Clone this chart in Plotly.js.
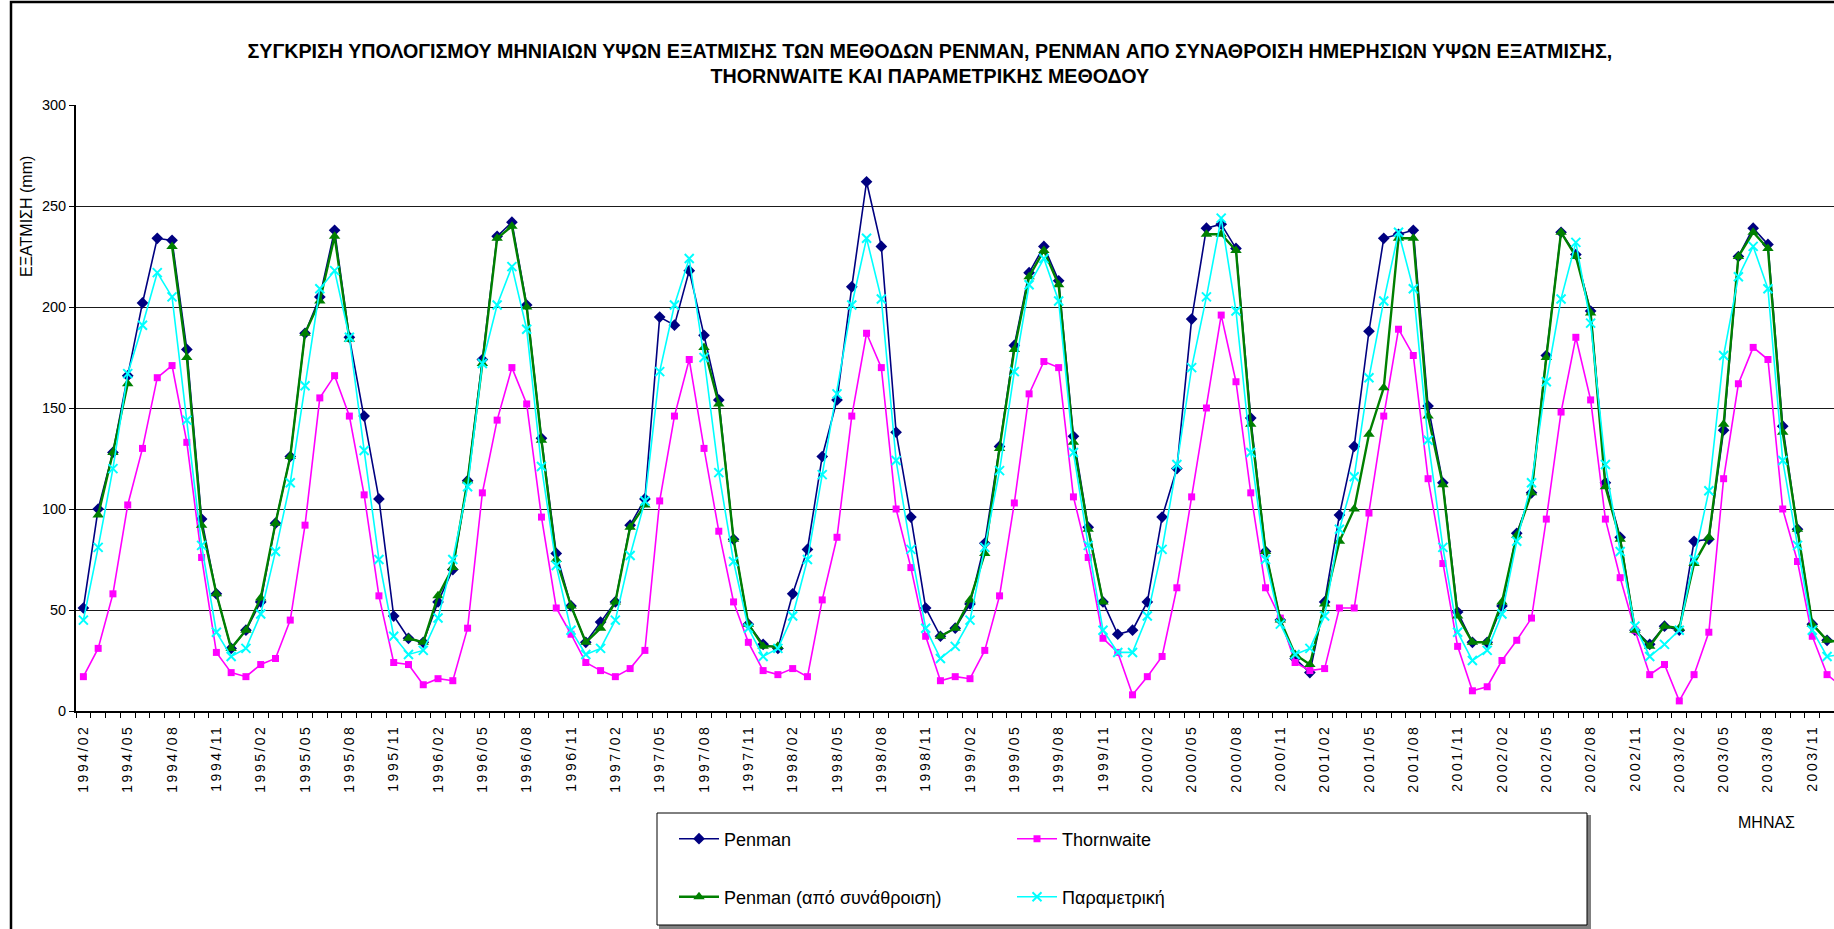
<!DOCTYPE html>
<html>
<head>
<meta charset="utf-8">
<script src="https://cdn.plot.ly/plotly-3.0.1.min.js"></script>
<style>
  html, body { margin: 0; padding: 0; background: #fff; }
  #chart { width: 1834px; height: 929px; }
  .xtick text { letter-spacing: 2.5px; }
</style>
</head>
<body>
<div id="chart"></div>
<script>
// Monthly categories, 1994/02 .. 2004/01
const months = [
  '1994/02','1994/03','1994/04','1994/05','1994/06','1994/07','1994/08','1994/09','1994/10','1994/11','1994/12','1995/01',
  '1995/02','1995/03','1995/04','1995/05','1995/06','1995/07','1995/08','1995/09','1995/10','1995/11','1995/12','1996/01',
  '1996/02','1996/03','1996/04','1996/05','1996/06','1996/07','1996/08','1996/09','1996/10','1996/11','1996/12','1997/01',
  '1997/02','1997/03','1997/04','1997/05','1997/06','1997/07','1997/08','1997/09','1997/10','1997/11','1997/12','1998/01',
  '1998/02','1998/03','1998/04','1998/05','1998/06','1998/07','1998/08','1998/09','1998/10','1998/11','1998/12','1999/01',
  '1999/02','1999/03','1999/04','1999/05','1999/06','1999/07','1999/08','1999/09','1999/10','1999/11','1999/12','2000/01',
  '2000/02','2000/03','2000/04','2000/05','2000/06','2000/07','2000/08','2000/09','2000/10','2000/11','2000/12','2001/01',
  '2001/02','2001/03','2001/04','2001/05','2001/06','2001/07','2001/08','2001/09','2001/10','2001/11','2001/12','2002/01',
  '2002/02','2002/03','2002/04','2002/05','2002/06','2002/07','2002/08','2002/09','2002/10','2002/11','2002/12','2003/01',
  '2003/02','2003/03','2003/04','2003/05','2003/06','2003/07','2003/08','2003/09','2003/10','2003/11','2003/12','2004/01'
];

// Evaporation depth (mm) per month
const penman = [
  51,100,128,166,202,234,233,179,95,58,31,40,
  54,93,126,187,205,238,185,146,105,47,36,34,
  54,70,114,174,235,242,201,135,78,52,34,44,
  54,92,105,195,191,218,186,154,85,43,33,31,
  58,80,126,154,210,262,230,138,96,51,37,41,
  53,83,131,181,217,230,213,136,91,54,38,40,
  54,96,120,194,239,241,229,145,79,45,26,19,
  54,97,131,188,234,236,238,151,113,49,34,34,
  52,88,108,176,237,226,198,113,86,40,33,42,
  40,84,85,139,225,239,231,141,90,43,35,34
];

const thornwaite = [
  17,31,58,102,130,165,171,133,76,29,19,17,
  23,26,45,92,155,166,146,107,57,24,23,13,
  16,15,41,108,144,170,152,96,51,38,24,20,
  17,21,30,104,146,174,130,89,54,34,20,18,
  21,17,55,86,146,187,170,100,71,37,15,17,
  16,30,57,103,157,173,170,106,76,36,29,8,
  17,27,61,106,150,196,163,108,61,46,24,20,
  21,51,51,98,146,189,176,115,73,32,10,12,
  25,35,46,95,148,185,154,95,66,40,18,23,
  5,18,39,115,162,180,174,100,74,37,18,12
];

// Penman from summed daily depths (months without a value are left empty)
const penmanSum = [
  null,97,128,162,null,null,230,175,92,58,31,40,
  56,93,126,187,203,235,184,null,null,null,36,34,
  57,71,114,172,234,240,200,134,75,52,34,41,
  54,91,102,null,null,null,180,152,85,43,32,32,
  null,null,null,null,null,null,null,null,null,null,37,41,
  55,78,130,179,215,228,211,133,90,54,null,null,
  null,null,null,null,236,236,228,142,79,45,28,23,
  53,84,100,137,160,234,234,146,112,47,34,34,
  54,87,108,175,237,225,197,111,85,40,32,42,
  41,73,86,142,225,237,229,138,90,43,35,34
];

const parametric = [
  45,81,120,167,191,217,205,144,82,39,27,31,
  48,79,113,161,209,218,185,129,75,37,28,30,
  46,75,111,172,201,220,189,121,72,40,28,31,
  45,77,104,168,201,224,175,118,74,41,27,31,
  47,75,117,157,201,234,204,124,80,41,26,32,
  45,81,119,168,211,224,203,128,82,40,29,29,
  47,80,122,170,205,244,198,128,75,43,28,31,
  47,90,116,165,203,237,209,134,81,39,25,30,
  48,84,113,163,204,232,192,122,79,42,27,33,
  40,75,109,176,215,230,209,124,82,40,27,28
];

const titleLines = [
  'ΣΥΓΚΡΙΣΗ ΥΠΟΛΟΓΙΣΜΟΥ ΜΗΝΙΑΙΩΝ ΥΨΩΝ ΕΞΑΤΜΙΣΗΣ ΤΩΝ ΜΕΘΟΔΩΝ PENMAN, PENMAN ΑΠΟ ΣΥΝΑΘΡΟΙΣΗ ΗΜΕΡΗΣΙΩΝ ΥΨΩΝ ΕΞΑΤΜΙΣΗΣ,',
  'THORNWAITE ΚΑΙ ΠΑΡΑΜΕΤΡΙΚΗΣ ΜΕΘΟΔΟΥ'
];

// Month index used as the x coordinate; a label every third month
const monthIdx = months.map((_, i) => i);
const labelIdx = monthIdx.filter(i => i % 3 === 0);
const labelText = labelIdx.map(i => months[i]);

const FONT = 'Liberation Sans, Arial, sans-serif';

const traces = [
  {
    name: 'Penman', x: monthIdx, y: penman, type: 'scatter', mode: 'lines+markers',
    line: { color: '#000080', width: 1.6 },
    marker: { symbol: 'diamond', size: 9, color: '#000080' },
    legend: 'legend'
  },
  {
    name: 'Thornwaite', x: monthIdx, y: thornwaite, type: 'scatter', mode: 'lines+markers',
    line: { color: '#FF00FF', width: 1.6 },
    marker: { symbol: 'square', size: 7, color: '#FF00FF' },
    legend: 'legend'
  },
  {
    name: 'Penman (από συνάθροιση)', x: monthIdx, y: penmanSum, type: 'scatter', mode: 'lines+markers',
    connectgaps: false,
    line: { color: '#008000', width: 2.4 },
    marker: { symbol: 'triangle-up', size: 10, color: '#008000' },
    legend: 'legend2'
  },
  {
    name: 'Παραμετρική', x: monthIdx, y: parametric, type: 'scatter', mode: 'lines+markers',
    line: { color: '#00FFFF', width: 1.6 },
    marker: { symbol: 'x-thin-open', size: 9, color: '#00FFFF', line: { color: '#00FFFF', width: 2 } },
    legend: 'legend2'
  }
];

// Plot area: x 76..1834, y 105..711 (pixels)
const L = 76, T = 105, B = 711, W = 1834 - L, H = B - T;
const px = x => (x - L) / W;
const py = y => (B - y) / H;

const legendCommon = {
  orientation: 'h', xanchor: 'left', yanchor: 'middle',
  entrywidth: 283, entrywidthmode: 'pixels', itemwidth: 40,
  font: { family: FONT, size: 18, color: '#000' },
  bgcolor: 'rgba(0,0,0,0)', borderwidth: 0, traceorder: 'normal'
};

const layout = {
  width: 1834, height: 929,
  margin: { l: L, r: 0, t: T, b: 929 - B, pad: 0 },
  paper_bgcolor: '#fff', plot_bgcolor: '#fff',
  showlegend: true,
  title: {
    text: titleLines.join('<br>'),
    font: { family: FONT, size: 19.7, color: '#000', weight: 'bold' },
    xref: 'container', x: 0.507, xanchor: 'center',
    yref: 'container', y: 1 - 57.5 / 929, yanchor: 'middle'
  },
  xaxis: {
    type: 'linear', range: [-0.5, 118.47],
    tickmode: 'array', tickvals: labelIdx, ticktext: labelText,
    tickangle: -90, ticks: '', ticklabelstandoff: 6,
    tickfont: { family: FONT, size: 14, color: '#000' },
    showgrid: false, zeroline: false,
    showline: true, linecolor: '#000', linewidth: 2,
    minor: { tickmode: 'linear', tick0: -0.5, dtick: 1, ticks: 'outside', ticklen: 5, tickwidth: 1, tickcolor: '#000', showgrid: false }
  },
  yaxis: {
    range: [0, 300], tickmode: 'linear', tick0: 0, dtick: 50,
    ticks: 'outside', ticklen: 5, tickwidth: 1, tickcolor: '#000',
    tickfont: { family: FONT, size: 14.5, color: '#000' },
    showgrid: true, gridcolor: '#1a1a1a', gridwidth: 1,
    zeroline: false, showline: true, linecolor: '#000', linewidth: 2
  },
  legend: Object.assign({ x: px(674), y: py(839) }, legendCommon),
  legend2: Object.assign({ x: px(674), y: py(897) }, legendCommon),
  annotations: [
    {
      text: 'ΕΞΑΤΜΙΣΗ (mm)', textangle: -90, showarrow: false,
      xref: 'paper', yref: 'paper', x: px(26), y: py(217), xanchor: 'center', yanchor: 'middle',
      font: { family: FONT, size: 16, color: '#000' }
    },
    {
      text: 'ΜΗΝΑΣ', showarrow: false,
      xref: 'paper', yref: 'paper', x: px(1766), y: py(822), xanchor: 'center', yanchor: 'middle',
      font: { family: FONT, size: 16, color: '#000' }
    }
  ],
  shapes: [
    // chart frame
    { type: 'rect', xref: 'paper', yref: 'paper', x0: px(11), x1: px(1900), y0: py(1000), y1: py(2),
      line: { color: '#000', width: 2.5 }, fillcolor: 'rgba(0,0,0,0)' },
    // legend shadow and box
    { type: 'rect', xref: 'paper', yref: 'paper', x0: px(660), x1: px(1590), y0: py(928), y1: py(816),
      line: { color: '#808080', width: 2 }, fillcolor: '#808080' },
    { type: 'rect', xref: 'paper', yref: 'paper', x0: px(657), x1: px(1587), y0: py(925), y1: py(813),
      line: { color: '#000', width: 1 }, fillcolor: '#fff' }
  ]
};

Plotly.newPlot('chart', traces, layout, { staticPlot: true, displayModeBar: false });
</script>
</body>
</html>
